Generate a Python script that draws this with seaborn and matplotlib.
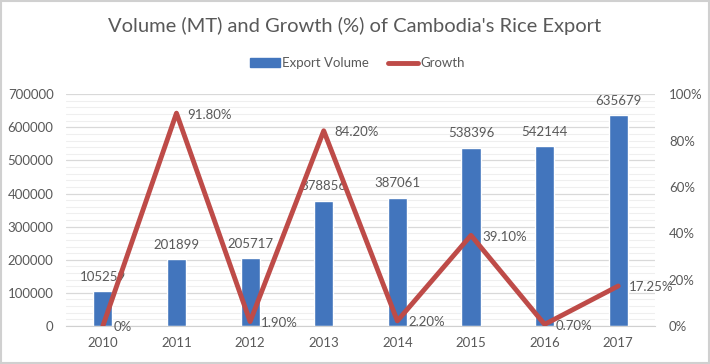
import numpy as np
import pandas as pd
import seaborn as sns
import matplotlib.pyplot as plt
from matplotlib.patches import Rectangle
from matplotlib.ticker import MultipleLocator, PercentFormatter, FixedLocator

years = ["2010", "2011", "2012", "2013", "2014", "2015", "2016", "2017"]
export_volume = [105259, 201899, 205717, 378856, 387061, 538396, 542144, 635679]
growth = [0.0, 0.918, 0.019, 0.842, 0.022, 0.391, 0.007, 0.1725]
growth_labels = ["0%", "91.80%", "1.90%", "84.20%", "2.20%", "39.10%", "0.70%", "17.25%"]

sns.set_style("white")
plt.rcParams["font.family"] = ["Lato", "DejaVu Sans"]

BLUE = "#4275BD"
RED = "#BE4B48"
GRAY = "#595959"

df = pd.DataFrame({"Year": years, "Volume": export_volume, "Growth": growth})
df["pos"] = np.arange(len(years))

fig = plt.figure(figsize=(7.1, 3.64), dpi=100)
ax = fig.add_axes([0.093, 0.1044, 0.8296, 0.637])

sns.barplot(data=df, x="Year", y="Volume", color=BLUE, width=0.26,
            saturation=1, ax=ax, zorder=2)
ax.bar_label(ax.containers[0], labels=[str(v) for v in export_volume],
             padding=6, fontsize=9.5, color=GRAY)

ax.set_ylim(0, 700000)
ax.set_xlim(-0.5, len(years) - 0.5)
ax.yaxis.set_major_locator(MultipleLocator(100000))
ax.yaxis.set_minor_locator(MultipleLocator(20000))
ax.grid(axis="y", which="major", color="#d9d9d9", lw=0.9, zorder=0)
ax.grid(axis="y", which="minor", color="#efefef", lw=0.8, zorder=0)
ax.set_axisbelow(True)
ax.set_xlabel("")
ax.set_ylabel("")
for s in ["top", "right", "left"]:
    ax.spines[s].set_visible(False)
ax.spines["bottom"].set_color("#d0d0d0")
ax.tick_params(axis="both", which="both", length=0, colors=GRAY, labelsize=9.5)
ax.tick_params(axis="y", pad=9)
ax.tick_params(axis="x", pad=8)
# small separator ticks between categories, like the original
ax.xaxis.set_minor_locator(FixedLocator(np.arange(len(years) + 1) - 0.5))
ax.tick_params(axis="x", which="minor", length=4, color="#d0d0d0", width=0.9)

ax2 = ax.twinx()
sns.lineplot(data=df, x="pos", y="Growth", color=RED, lw=3.5, ax=ax2,
             zorder=3)
for x, y, lab in zip(df["pos"], growth, growth_labels):
    ax2.annotate(lab, (x, y), xytext=(8, -1), textcoords="offset points",
                 ha="left", va="center", fontsize=9.5, color=GRAY)
ax2.set_ylim(0, 1)
ax2.yaxis.set_major_locator(MultipleLocator(0.2))
ax2.yaxis.set_major_formatter(PercentFormatter(1, decimals=0))
ax2.set_ylabel("")
ax2.set_xlabel("")
for s in ["top", "right", "left", "bottom"]:
    ax2.spines[s].set_visible(False)
ax2.tick_params(axis="y", length=0, colors=GRAY, labelsize=9.5, pad=10)
ax2.set_xlim(-0.5, len(years) - 0.5)

fig.text(0.5, 0.93, "Volume (MT) and Growth (%) of Cambodia's Rice Export",
         ha="center", va="center", fontsize=14.5, color=GRAY)

handles = [Rectangle((0, 0), 1, 1, color=BLUE),
           plt.Line2D([0], [0], color=RED, lw=3.5)]
fig.legend(handles, ["Export Volume", "Growth"], loc="center",
           bbox_to_anchor=(0.503, 0.827), ncol=2, frameon=False, fontsize=9.5,
           handlelength=2.3, handleheight=0.6, handletextpad=0.15,
           columnspacing=1.4, labelcolor=GRAY)

fig.patches.append(Rectangle((0.001, 0.002), 0.997, 0.995,
                             transform=fig.transFigure, fill=False,
                             edgecolor="#d0d0d0", lw=1.5))

fig.savefig("out.png", dpi=100, facecolor="white")
